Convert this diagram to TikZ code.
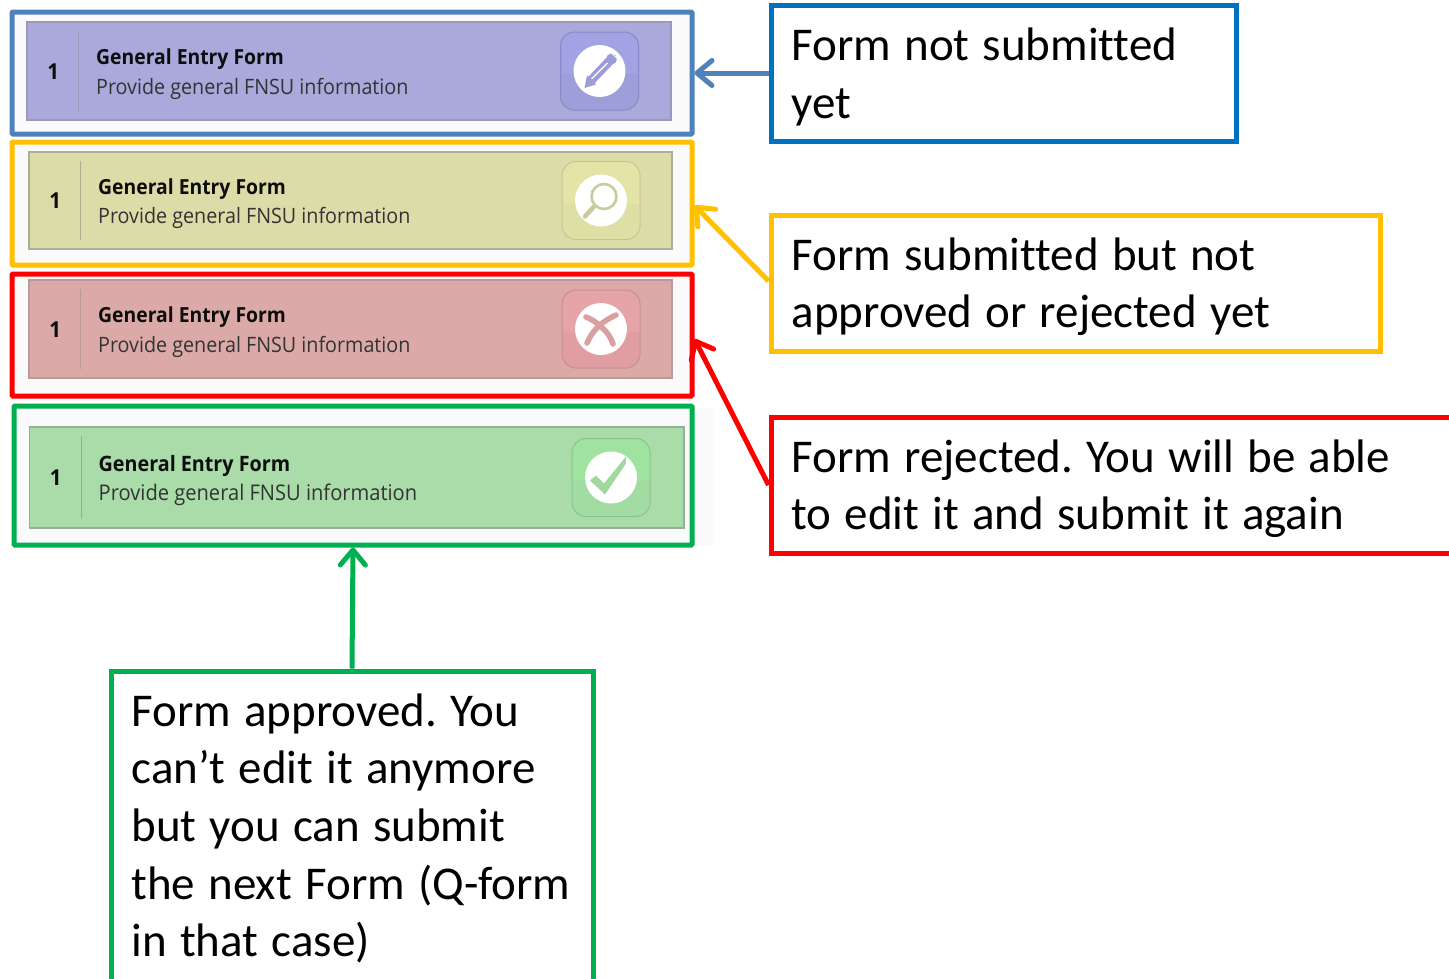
\documentclass[tikz,border=0pt]{standalone}
\usepackage{fontspec}
\setmainfont{Carlito}[Ligatures={NoCommon}]
\newfontfamily\cardfont{Open Sans}[FakeStretch=0.93]
\usetikzlibrary{arrows.meta,calc}
\definecolor{fblue}{HTML}{4F81BD}
\definecolor{cblue}{HTML}{0070C0}
\definecolor{cyellow}{HTML}{FFC000}
\definecolor{cred}{HTML}{FF0000}
\definecolor{cgreen}{HTML}{00B050}
\definecolor{cardA}{HTML}{A9A9DC}
\definecolor{cardB}{HTML}{DCDCA9}
\definecolor{cardC}{HTML}{DCA9A9}
\definecolor{cardD}{HTML}{A9DCA9}
\definecolor{lineA}{HTML}{9A9AB8}
\definecolor{lineB}{HTML}{ADAD98}
\definecolor{lineC}{HTML}{B89A9A}
\definecolor{lineD}{HTML}{98AD98}
\definecolor{iconA}{HTML}{9C9CD6}
\definecolor{iconB}{HTML}{C8CC9C}
\definecolor{iconC}{HTML}{D8A0A0}
\definecolor{iconD}{HTML}{A0D8A0}
\definecolor{topa}{HTML}{A2A2E4}
\definecolor{bota}{HTML}{9E9EDA}
\definecolor{bora}{HTML}{8888C4}
\definecolor{topb}{HTML}{E4E4A8}
\definecolor{botb}{HTML}{DEDFA4}
\definecolor{borb}{HTML}{C4C890}
\definecolor{topc}{HTML}{E4A4A8}
\definecolor{botc}{HTML}{E09EA2}
\definecolor{borc}{HTML}{CC8C90}
\definecolor{topd}{HTML}{A0E2A0}
\definecolor{botd}{HTML}{A2DCA2}
\definecolor{bord}{HTML}{88C48C}
\newcommand{\cardscale}{1}
\newcommand{\tallline}{\frenchspacing\spaceskip=13.2pt\relax\rule{0pt}{40pt}}
\tikzset{
  x=1pt,y=-1pt,
  frame/.style={draw,line width=5pt,fill=white!98!black,inner sep=0pt,rounded corners=1pt},
  callout/.style={draw,line width=5pt,fill=white,anchor=north west,align=left,inner xsep=20.5pt,inner ysep=0pt,
     font=\fontsize{47}{57.6}\selectfont,text=black},
  link/.style={line width=5pt,-{Straight Barb[length=15pt,width=25pt,round]}},
  cardnum/.style={font=\cardfont\bfseries\fontsize{22}{22}\selectfont,text=black!95,inner sep=0pt},
  cardtitle/.style={anchor=west,font=\cardfont\bfseries\fontsize{20.8}{22}\selectfont,text=black!95,inner sep=0pt,scale=\cardscale},
  cardsub/.style={anchor=west,font=\cardfont\fontsize{21.2}{22}\selectfont,text=black!80,inner sep=0pt,scale=\cardscale},
}
% #1 prefix, #2 left, #3 top, #4 width, #5 height, #6 card colour, #7 line colour, #8 icon-centre x (relative), #9 glyph
\newcommand{\formcard}[9]{%
 \begin{scope}[shift={(#2,#3)}]
  \fill[#6] (0,0) rectangle (#4,#5);
  \draw[#7,line width=1.2pt] (0,0) rectangle (#4,#5);
  \draw[#7,line width=1pt] (51.5,9) -- (51.5,#5-9);
  \node[cardnum] (#1num) at (26.2,#5/2+0.5) {1};
  \node[cardtitle] (#1title) at (69,#5/2-11.5) {General Entry Form};
  \node[cardsub] (#1sub) at (69,#5/2+17.5) {Provide general FNSU information};
  \begin{scope}[shift={(#8,#5/2)}]
    \begin{scope}
      \clip[rounded corners=14pt] (-39,-39) rectangle (39,39);
      \fill[top#1] (-39,-39) rectangle (39,39);
      \fill[bot#1] (-39,3) rectangle (39,39);
    \end{scope}
    \draw[bor#1,line width=1pt,rounded corners=14pt] (-39,-39) rectangle (39,39);
    \fill[white] (0,0) circle[radius=26];
    #9
  \end{scope}
 \end{scope}}
\begin{document}
\begin{tikzpicture}
\useasboundingbox (0,0) rectangle (1449,978);
\clip (0,0) rectangle (1449,978);
\fill[white] (0,0) rectangle (1449,978);
\fill[white!98!black] (690,408) rectangle (714,545);
% frames
\node[frame,draw=fblue,minimum width=680pt,minimum height=122pt] (fA) at (352,73) {};
\node[frame,draw=cyellow,minimum width=680pt,minimum height=123pt] (fB) at (352,203.5) {};
\node[frame,draw=cred,minimum width=680pt,minimum height=122pt] (fC) at (352,335) {};
\node[frame,draw=cgreen,minimum width=678pt,minimum height=139pt] (fD) at (353,475.5) {};
% cards
\formcard{a}{27}{22}{644}{98}{cardA}{lineA}{572.5}{%
  \draw[iconA,line width=9pt] (-8,9) -- (10,-10);
  \fill[iconA] (-12.5,4.5) -- (-3.5,13.5) -- (-15,17) -- cycle;
  \fill[iconA] (12,-12) circle[radius=5.5];
  \draw[white,line width=1pt] (12,-18) -- (18,-12);
  \draw[white,line width=1.2pt] (-8,8) -- (8,-8);
}
\formcard{b}{29}{152}{643}{97}{cardB}{lineB}{572}{%
  \draw[iconB,line width=2.6pt,fill=white] (3,-4) circle[radius=12.5];
  \draw[iconB,line width=4.5pt,line cap=round] (-7,6) -- (-16,16);
}
\formcard{c}{29}{280}{643}{98}{cardC}{lineC}{572}{%
  \draw[iconC,line width=5.5pt,line cap=round] (-14,14) .. controls (-8,0) and (2,-8) .. (15,-14);
  \draw[iconC,line width=5.5pt,line cap=round] (-15,-12) .. controls (-5,-8) and (8,2) .. (12,15);
}
\renewcommand{\cardscale}{1.02}
\formcard{d}{29.5}{427}{654.5}{101}{cardD}{lineD}{581.5}{%
  \fill[iconD] (-21,3) -- (-15,-2) -- (-7,6) -- (15,-21) -- (15,-14) -- (-6,17) -- cycle;
}
% callouts
\node[callout,draw=cblue,text width=424pt,minimum height=136pt] (nA) at (768.5,2.5) {\tallline Form not submitted\\yet};
\node[callout,draw=cyellow,text width=568pt,minimum height=136pt] (nB) at (768.5,212.5) {\tallline Form submitted but not\\approved or rejected yet};
\node[callout,draw=cred,text width=690pt,minimum height=136pt] (nC) at (768.5,414.5) {\tallline Form rejected. You will be able\\to edit it and submit it again};
\node[callout,draw=cgreen,text width=441pt,minimum height=330pt] (nD) at (108.5,668.5) {\tallline Form approved. You\\can’t edit it anymore\\but you can submit\\the next Form (Q-form\\in that case)\rule[-29pt]{0pt}{0pt}};
% connectors
\draw[link,draw=fblue] (nA.west) -- (fA.east);
\draw[link,draw=cyellow] ([yshift=2pt]nB.west) -- ([yshift=-2pt]fB.east);
\draw[link,draw=cred] (nC.west) -- ([yshift=-4pt]fC.east);
\draw[link,draw=cgreen] (nD.north) -- (fD.south);
\end{tikzpicture}
\end{document}
